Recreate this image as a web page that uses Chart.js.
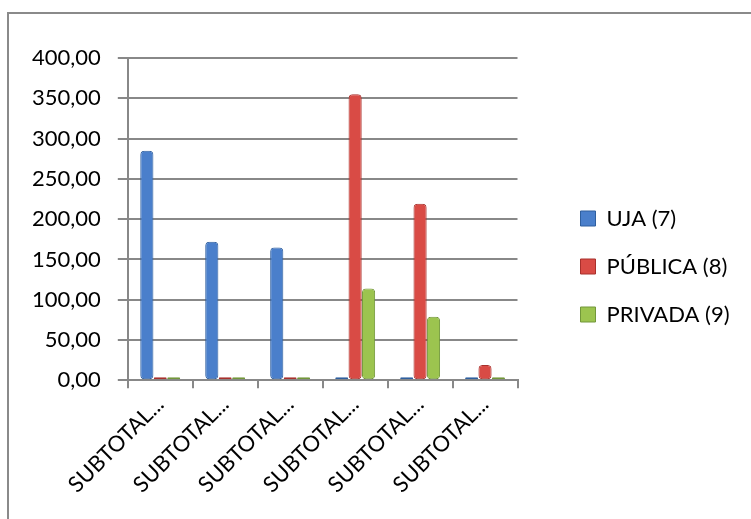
<!DOCTYPE html>
<html>
<head>
<meta charset="utf-8">
<script src="https://cdn.jsdelivr.net/npm/chart.js@4/dist/chart.umd.min.js"></script>
<style>
  html, body { margin: 0; padding: 0; background: #fff; overflow: hidden; width: 751px; height: 519px; }
  #frame {
    position: absolute; left: 7px; top: 12px;
    width: 742px; height: 505px;
    border-left: 2px solid #8a8a8a; border-top: 2px solid #8a8a8a;
  }
  #wrap { position: absolute; left: 0; top: 0; width: 742px; height: 505px; }
</style>
</head>
<body>
<div id="frame"><div id="wrap"><canvas id="myGraph"></canvas></div></div>
<script>
const categories = ["SUBTOTAL...", "SUBTOTAL...", "SUBTOTAL...", "SUBTOTAL...", "SUBTOTAL...", "SUBTOTAL..."];
const uja = [285, 172, 165, 0, 0, 0];
const publica = [0, 0, 0, 355, 219, 19];
const privada = [0, 0, 0, 114, 79, 0];
const seriesNames = ["UJA (7)", "PÚBLICA (8)", "PRIVADA (9)"];

const fontFamily = "Lato, 'Open Sans', sans-serif";

// shift legend a bit to sit like the original (legend is clipped to its box)
const legendNudge = {
  id: "legendNudge",
  afterLayout(chart) {
    const lg = chart.legend;
    lg.left += 37;
    lg.right = chart.width;
    lg.width = lg.right - lg.left;
    lg.top -= 13; lg.bottom -= 13;
  },
};

const bar = (label, data, color, edge) => ({
  label,
  data,
  backgroundColor: color,
  borderColor: edge,
  borderWidth: 1,
  borderRadius: 4,
  borderSkipped: false,
  minBarLength: 3,
});

new Chart(document.getElementById("myGraph"), {
  type: "bar",
  data: {
    labels: categories,
    datasets: [
      bar(seriesNames[0], uja, "#4a7fcb", "#2f5f9e"),
      bar(seriesNames[1], publica, "#d94b45", "#a8302c"),
      bar(seriesNames[2], privada, "#9cc44f", "#72973a"),
    ],
  },
  options: {
    responsive: true,
    maintainAspectRatio: false,
    animation: false,
    layout: { padding: { top: 44, left: 6, right: 66, bottom: 18 } },
    datasets: { bar: { categoryPercentage: 0.62, barPercentage: 0.98 } },
    scales: {
      x: {
        grid: { display: true, drawOnChartArea: false, color: "#888", lineWidth: 2, tickLength: 8, offset: true },
        border: { color: "#888", width: 2 },
        ticks: {
          minRotation: 45, maxRotation: 45, color: "#000",
          font: { family: fontFamily, size: 22 },
        },
      },
      y: {
        min: 0,
        max: 400,
        grid: { color: "#888", lineWidth: 2, tickLength: 10 },
        border: { color: "#888", width: 2 },
        ticks: {
          stepSize: 50,
          padding: 17,
          color: "#000",
          font: { family: fontFamily, size: 22 },
          callback: (v) => v.toFixed(2).replace(".", ","),
        },
      },
    },
    plugins: {
      legend: {
        position: "right",
        labels: {
          boxWidth: 15,
          boxHeight: 15,
          padding: 26,
          color: "#000",
          font: { family: fontFamily, size: 22 },
        },
      },
      tooltip: { enabled: false },
    },
  },
  plugins: [legendNudge],
});
</script>
</body>
</html>
